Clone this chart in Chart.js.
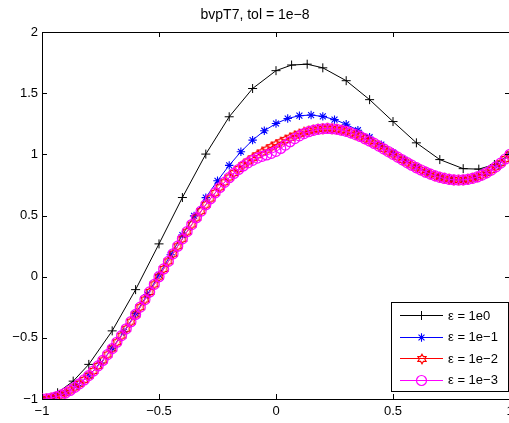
<!DOCTYPE html>
<html><head><meta charset="utf-8">
<script src="https://cdn.jsdelivr.net/npm/chart.js@4/dist/chart.umd.min.js"></script>
<style>
html,body{margin:0;padding:0;background:#fff;overflow:hidden;width:509px;height:423px;}
#wrap{position:relative;width:520px;height:423px;}
canvas{display:block;}
</style></head><body>
<div id="wrap"><canvas id="c" width="520" height="423"></canvas></div>
<script>
const titleText = 'bvpT7, tol = 1e\u22128';
const seriesLabels = ['\u03b5 = 1e0', '\u03b5 = 1e\u22121', '\u03b5 = 1e\u22122', '\u03b5 = 1e\u22123'];
const xTicks = [-1, -0.5, 0, 0.5, 1];
const yTicks = [-1, -0.5, 0, 0.5, 1, 1.5, 2];

// eps = 1e0 (coarse mesh)
const xEps0 = [-1, -0.9333, -0.8667, -0.8, -0.7, -0.6, -0.5, -0.4, -0.3, -0.2, -0.1, 0, 0.0667, 0.1333, 0.2, 0.3, 0.4, 0.5, 0.6, 0.7, 0.8, 0.8667, 0.9333, 1];
const yEps0 = [-1, -0.949, -0.854, -0.717, -0.443, -0.106, 0.268, 0.647, 1.002, 1.307, 1.538, 1.684, 1.730, 1.737, 1.707, 1.602, 1.447, 1.268, 1.094, 0.957, 0.883, 0.879, 0.917, 1];

// eps = 1e-1
const xEps1 = [-1, -0.95, -0.9, -0.85, -0.8, -0.75, -0.7, -0.65, -0.6, -0.55, -0.5, -0.45, -0.4, -0.35, -0.3, -0.25, -0.2, -0.15, -0.1, -0.05, 0, 0.05, 0.1, 0.15, 0.2, 0.25, 0.3, 0.35, 0.4, 0.45, 0.5, 0.55, 0.6, 0.65, 0.7, 0.75, 0.8, 0.85, 0.9, 0.95, 1];
const yEps1 = [-1, -0.988, -0.951, -0.891, -0.808, -0.706, -0.585, -0.450, -0.302, -0.146, 0.015, 0.179, 0.340, 0.497, 0.646, 0.784, 0.910, 1.021, 1.116, 1.193, 1.252, 1.293, 1.316, 1.321, 1.310, 1.284, 1.246, 1.197, 1.140, 1.079, 1.015, 0.954, 0.898, 0.850, 0.815, 0.794, 0.792, 0.809, 0.849, 0.912, 1];

// eps = 1e-2
const xEps2 = [-1, -0.98, -0.96, -0.94, -0.92, -0.9, -0.88, -0.86, -0.84, -0.82, -0.8, -0.78, -0.76, -0.74, -0.72, -0.7, -0.68, -0.66, -0.64, -0.62, -0.6, -0.58, -0.56, -0.54, -0.52, -0.5, -0.48, -0.46, -0.44, -0.42, -0.4, -0.38, -0.36, -0.34, -0.32, -0.3, -0.28, -0.26, -0.24, -0.22, -0.2, -0.18, -0.16, -0.14, -0.12, -0.1, -0.08, -0.06, -0.04, -0.02, 0, 0.02, 0.04, 0.06, 0.08, 0.1, 0.12, 0.14, 0.16, 0.18, 0.2, 0.22, 0.24, 0.26, 0.28, 0.3, 0.32, 0.34, 0.36, 0.38, 0.4, 0.42, 0.44, 0.46, 0.48, 0.5, 0.52, 0.54, 0.56, 0.58, 0.6, 0.62, 0.64, 0.66, 0.68, 0.7, 0.72, 0.74, 0.76, 0.78, 0.8, 0.82, 0.84, 0.86, 0.88, 0.9, 0.92, 0.94, 0.96, 0.98, 1];
const yEps2 = [-1, -0.998, -0.992, -0.982, -0.969, -0.951, -0.930, -0.905, -0.876, -0.844, -0.809, -0.771, -0.729, -0.685, -0.637, -0.588, -0.536, -0.482, -0.426, -0.368, -0.309, -0.249, -0.187, -0.125, -0.063, 0, 0.063, 0.125, 0.187, 0.249, 0.309, 0.368, 0.426, 0.482, 0.536, 0.588, 0.638, 0.685, 0.730, 0.772, 0.811, 0.847, 0.881, 0.912, 0.941, 0.968, 0.993, 1.016, 1.038, 1.059, 1.080, 1.099, 1.118, 1.136, 1.153, 1.168, 1.181, 1.192, 1.201, 1.207, 1.211, 1.212, 1.210, 1.205, 1.198, 1.188, 1.176, 1.162, 1.146, 1.128, 1.109, 1.089, 1.067, 1.045, 1.023, 1.000, 0.977, 0.955, 0.933, 0.911, 0.891, 0.872, 0.854, 0.838, 0.824, 0.812, 0.803, 0.795, 0.791, 0.790, 0.791, 0.796, 0.804, 0.815, 0.830, 0.849, 0.871, 0.898, 0.928, 0.962, 1];

// eps = 1e-3
const xEps3 = [-1, -0.98, -0.96, -0.94, -0.92, -0.9, -0.88, -0.86, -0.84, -0.82, -0.8, -0.78, -0.76, -0.74, -0.72, -0.7, -0.68, -0.66, -0.64, -0.62, -0.6, -0.58, -0.56, -0.54, -0.52, -0.5, -0.48, -0.46, -0.44, -0.42, -0.4, -0.38, -0.36, -0.34, -0.32, -0.3, -0.28, -0.26, -0.24, -0.22, -0.2, -0.18, -0.16, -0.14, -0.12, -0.1, -0.08, -0.06, -0.04, -0.02, 0, 0.02, 0.04, 0.06, 0.08, 0.1, 0.12, 0.14, 0.16, 0.18, 0.2, 0.22, 0.24, 0.26, 0.28, 0.3, 0.32, 0.34, 0.36, 0.38, 0.4, 0.42, 0.44, 0.46, 0.48, 0.5, 0.52, 0.54, 0.56, 0.58, 0.6, 0.62, 0.64, 0.66, 0.68, 0.7, 0.72, 0.74, 0.76, 0.78, 0.8, 0.82, 0.84, 0.86, 0.88, 0.9, 0.92, 0.94, 0.96, 0.98, 1];
const yEps3 = [-1, -0.998, -0.992, -0.982, -0.969, -0.951, -0.930, -0.905, -0.876, -0.844, -0.809, -0.771, -0.729, -0.685, -0.637, -0.588, -0.536, -0.482, -0.426, -0.368, -0.309, -0.249, -0.187, -0.125, -0.063, 0, 0.063, 0.125, 0.187, 0.249, 0.309, 0.368, 0.426, 0.482, 0.536, 0.588, 0.637, 0.685, 0.729, 0.771, 0.809, 0.844, 0.876, 0.905, 0.930, 0.951, 0.969, 0.983, 0.995, 1.008, 1.025, 1.048, 1.075, 1.103, 1.129, 1.151, 1.170, 1.185, 1.196, 1.204, 1.209, 1.211, 1.209, 1.205, 1.197, 1.188, 1.176, 1.162, 1.146, 1.128, 1.109, 1.089, 1.067, 1.045, 1.023, 1.000, 0.977, 0.955, 0.933, 0.911, 0.891, 0.872, 0.854, 0.838, 0.824, 0.812, 0.803, 0.795, 0.791, 0.790, 0.791, 0.796, 0.804, 0.815, 0.830, 0.849, 0.871, 0.898, 0.928, 0.962, 1];

const colors = ['#000000', '#0000ff', '#ff0000', '#ff00ff'];
const FONT = '"Liberation Sans", Arial, Helvetica, sans-serif';

function pairs(xs, ys) { return xs.map((x, i) => ({ x: x, y: ys[i] })); }

// hexagram marker image
function makeHexagram(color) {
  const c = document.createElement('canvas');
  c.width = 12; c.height = 12;
  const g = c.getContext('2d');
  const R = 4.8, r = R / Math.sqrt(3);
  g.strokeStyle = color; g.lineWidth = 1.1;
  g.beginPath();
  for (let k = 0; k < 12; k++) {
    const a = -Math.PI / 2 + k * Math.PI / 6;
    const rr = (k % 2 === 0) ? R : r;
    const px = 6 + rr * Math.cos(a), py = 6 + rr * Math.sin(a);
    if (k === 0) g.moveTo(px, py); else g.lineTo(px, py);
  }
  g.closePath(); g.stroke();
  return c;
}
const hexImg = makeHexagram('#ff0000');

const markerStyles = ['cross', 'star', hexImg, 'circle'];
const markerRadius = [4.5, 4.2, 5, 5];
const markerWidth = [1, 1.1, 1, 1.2];

function fmt(v) { return String(v).replace('-', '\u2212'); }

function drawMarker(ctx, style, r, w, x, y, color) {
  ctx.save();
  ctx.strokeStyle = color; ctx.lineWidth = w;
  if (style === 'cross') {
    ctx.beginPath(); ctx.moveTo(x - r, y); ctx.lineTo(x + r, y); ctx.moveTo(x, y - r); ctx.lineTo(x, y + r); ctx.stroke();
  } else if (style === 'star') {
    ctx.beginPath();
    ctx.moveTo(x - r, y); ctx.lineTo(x + r, y); ctx.moveTo(x, y - r); ctx.lineTo(x, y + r);
    const d = r * Math.SQRT1_2;
    ctx.moveTo(x - d, y - d); ctx.lineTo(x + d, y + d); ctx.moveTo(x - d, y + d); ctx.lineTo(x + d, y - d);
    ctx.stroke();
  } else if (style === 'circle') {
    ctx.beginPath(); ctx.arc(x, y, r, 0, Math.PI * 2); ctx.stroke();
  } else {
    ctx.drawImage(style, Math.round(x - style.width / 2), Math.round(y - style.height / 2));
  }
  ctx.restore();
}

const matlabAxes = {
  id: 'matlabAxes',
  afterDraw(chart) {
    const ctx = chart.ctx, a = chart.chartArea;
    const xs = chart.scales.x, ys = chart.scales.y;
    const L = 5;
    ctx.save();
    ctx.strokeStyle = '#000'; ctx.lineWidth = 1;
    ctx.beginPath();
    ctx.moveTo(a.left, a.top + 0.5); ctx.lineTo(a.right, a.top + 0.5);
    ctx.moveTo(a.right - 0.5, a.top); ctx.lineTo(a.right - 0.5, a.bottom);
    xTicks.forEach(v => {
      const px = Math.round(xs.getPixelForValue(v)) + 0.5;
      ctx.moveTo(px, a.bottom); ctx.lineTo(px, a.bottom - L);
      ctx.moveTo(px, a.top); ctx.lineTo(px, a.top + L);
    });
    yTicks.forEach(v => {
      const py = Math.round(ys.getPixelForValue(v)) + 0.5;
      ctx.moveTo(a.left, py); ctx.lineTo(a.left + L, py);
      ctx.moveTo(a.right, py); ctx.lineTo(a.right - L, py);
    });
    ctx.stroke();

    // legend
    const bx = 391.5, by = 302.5, bw = 117, bh = 89;
    ctx.fillStyle = '#fff';
    ctx.fillRect(bx, by, bw, bh);
    ctx.strokeRect(bx, by, bw, bh);
    ctx.font = '13px ' + FONT;
    ctx.textBaseline = 'middle';
    ctx.textAlign = 'left';
    const rows = [315, 336.5, 358, 379.5];
    seriesLabels.forEach((lab, i) => {
      const yy = rows[i];
      ctx.strokeStyle = colors[i]; ctx.lineWidth = 1;
      ctx.beginPath(); ctx.moveTo(400, Math.round(yy) + 0.5); ctx.lineTo(443, Math.round(yy) + 0.5); ctx.stroke();
      drawMarker(ctx, markerStyles[i], markerRadius[i], markerWidth[i], 421.5, Math.round(yy) + 0.5, colors[i]);
      ctx.fillStyle = '#000';
      ctx.fillText(lab, 448, yy + 1);
    });
    ctx.restore();
  }
};

const xsets = [xEps0, xEps1, xEps2, xEps3];
const ysets = [yEps0, yEps1, yEps2, yEps3];
const datasets = seriesLabels.map((lab, i) => ({
  label: lab,
  data: pairs(xsets[i], ysets[i]),
  showLine: true,
  borderColor: colors[i],
  borderWidth: 1,
  backgroundColor: 'rgba(0,0,0,0)',
  pointStyle: markerStyles[i],
  pointRadius: markerRadius[i],
  pointBorderColor: colors[i],
  pointBackgroundColor: 'rgba(0,0,0,0)',
  pointBorderWidth: markerWidth[i],
  tension: 0,
  order: 3 - i
}));

new Chart(document.getElementById('c'), {
  type: 'scatter',
  data: { datasets: datasets },
  options: {
    responsive: false,
    animation: false,
    events: [],
    devicePixelRatio: 1,
    layout: { padding: { left: 0, right: 10, top: 0, bottom: 0 } },
    plugins: {
      legend: { display: false },
      tooltip: { enabled: false },
      title: {
        display: true, text: titleText, color: '#000',
        font: { family: FONT, size: 14, weight: 'normal' },
        padding: { top: 7, bottom: 8.2 }
      }
    },
    scales: {
      x: {
        type: 'linear', min: -1, max: 1,
        afterBuildTicks: s => { s.ticks = xTicks.map(v => ({ value: v })); },
        afterFit: s => { s.height = 24; },
        ticks: { color: '#000', font: { family: FONT, size: 13 }, padding: 5, maxRotation: 0, autoSkip: false, callback: v => fmt(v) },
        grid: { display: true, drawOnChartArea: false, drawTicks: false },
        border: { display: true, color: '#000', width: 1 }
      },
      y: {
        type: 'linear', min: -1, max: 2,
        afterBuildTicks: s => { s.ticks = yTicks.map(v => ({ value: v })); },
        afterFit: s => { s.width = 42; },
        ticks: { color: '#000', font: { family: FONT, size: 13 }, padding: 4, autoSkip: false, callback: v => fmt(v) },
        grid: { display: true, drawOnChartArea: false, drawTicks: false },
        border: { display: true, color: '#000', width: 1 }
      }
    }
  },
  plugins: [matlabAxes]
});
</script>
</body></html>
